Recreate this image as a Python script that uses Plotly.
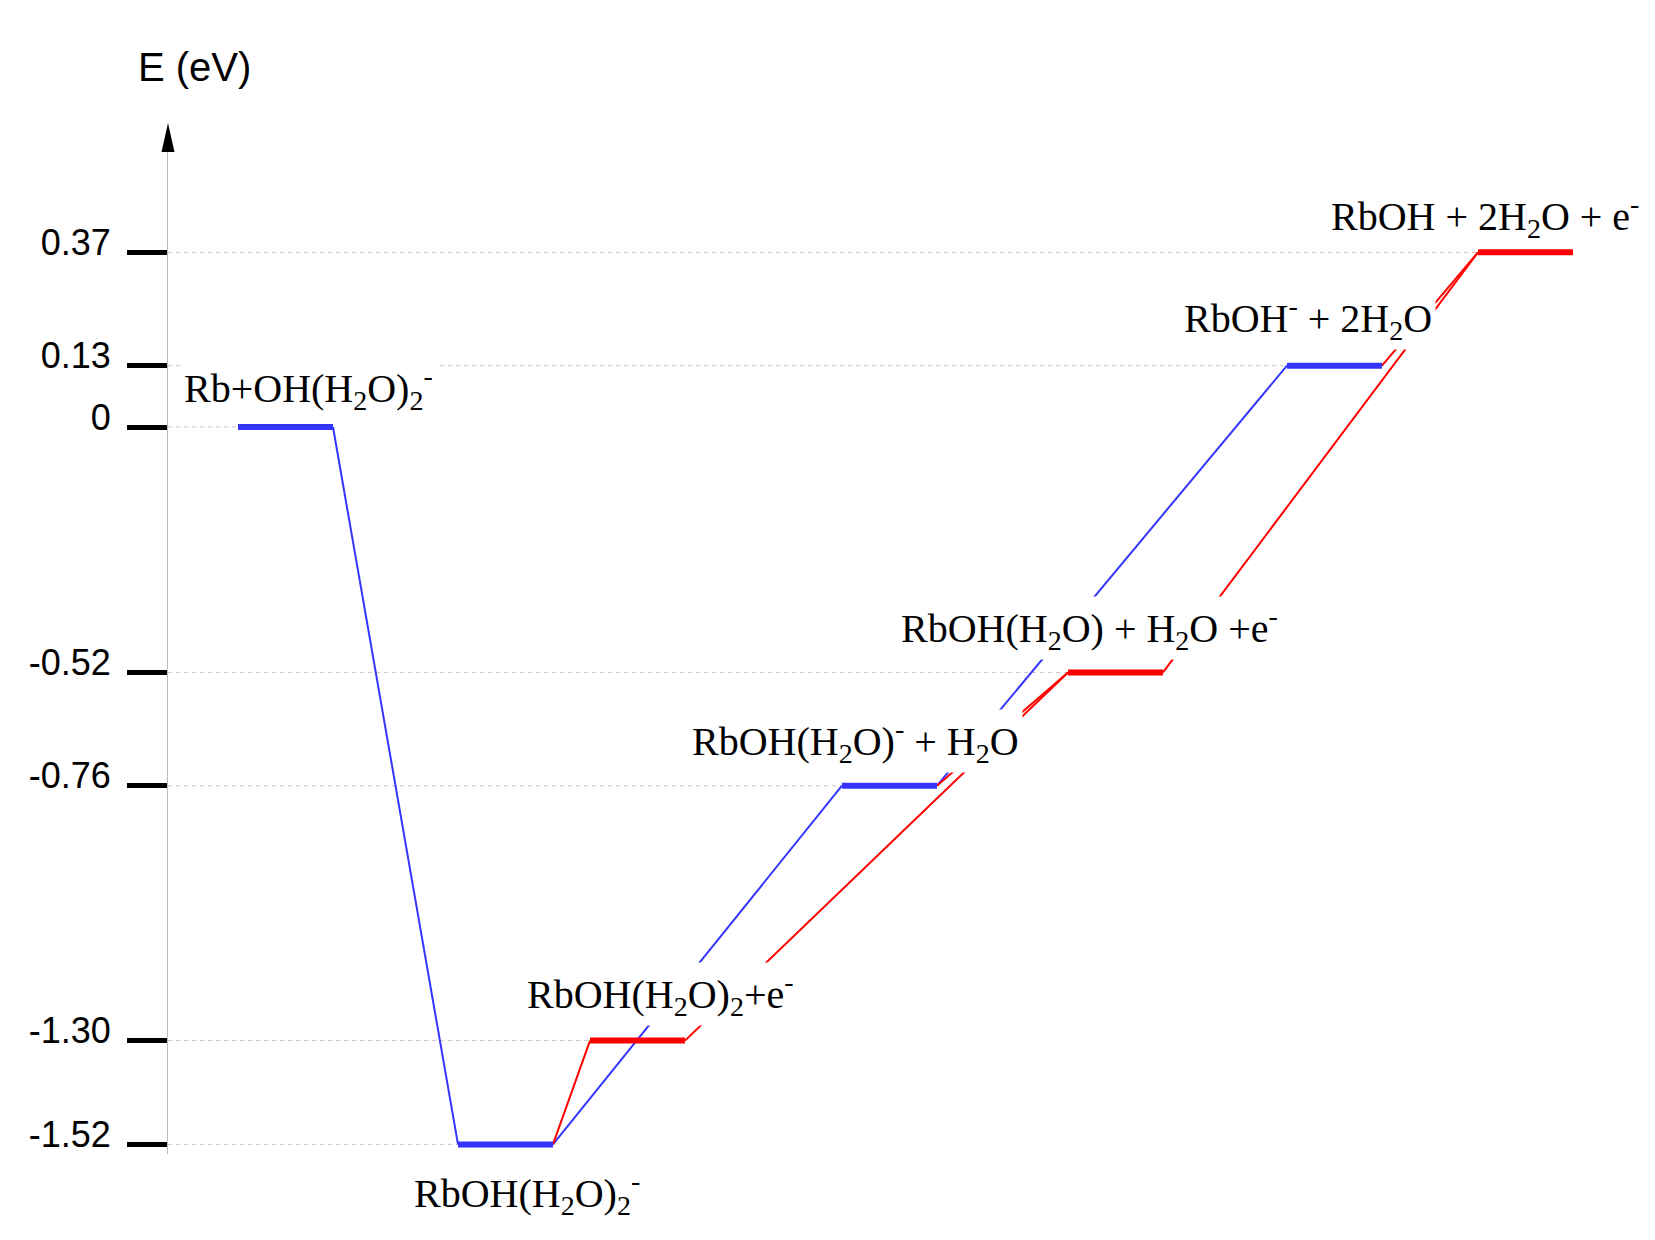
import plotly.graph_objects as go

# ---------------- data ----------------
level_names = [
    "Rb+OH(H<sub>2</sub>O)<sub>2</sub><sup>-</sup>",
    "RbOH(H<sub>2</sub>O)<sub>2</sub><sup>-</sup>",
    "RbOH(H<sub>2</sub>O)<sub>2</sub>+e<sup>-</sup>",
    "RbOH(H<sub>2</sub>O)<sup>-</sup> + H<sub>2</sub>O",
    "RbOH(H<sub>2</sub>O) + H<sub>2</sub>O +e<sup>-</sup>",
    "RbOH<sup>-</sup> + 2H<sub>2</sub>O",
    "RbOH + 2H<sub>2</sub>O + e<sup>-</sup>",
]
level_energy = [0.0, -1.52, -1.30, -0.76, -0.52, 0.13, 0.37]
level_kind = ["anion", "anion", "neutral", "anion", "neutral", "anion", "neutral"]

links_anion = [(0, 1), (1, 3), (3, 5)]
links_neutral = [(1, 2), (2, 4), (3, 4), (4, 6), (5, 6)]

tick_energy = [0.37, 0.13, 0.0, -0.52, -0.76, -1.30, -1.52]
tick_text = ["0.37", "0.13", "0", "-0.52", "-0.76", "-1.30", "-1.52"]

axis_title = "E (eV)"

# ---------------- layout / style ----------------
W, H = 1655, 1240
AXIS_X = 168
PLOT_TOP, PLOT_BOT = 150, 1154
PX0, PX_PER_EV = 427, 472
y_top = (PX0 - PLOT_TOP) / PX_PER_EV
y_bot = (PX0 - PLOT_BOT) / PX_PER_EV

level_x = [238, 458, 590, 842, 1068, 1287, 1478]
LEVEL_W = 95
label_x = [180, 410, 523, 688, 897, 1180, 1327]
label_shift = [39, -49, 47, 45, 44, 48, 36]
colors = {"anion": "#3535ff", "neutral": "#ff0000"}

fig = go.Figure()

# dashed guide lines from axis to each level
for i, e in enumerate(level_energy):
    fig.add_trace(go.Scatter(
        x=[AXIS_X, level_x[i] + 10], y=[e, e], mode="lines",
        line=dict(color="#c8c8c8", width=1, dash="4px,4px"),
        hoverinfo="skip", showlegend=False))

# connectors
for links, kind in ((links_anion, "anion"), (links_neutral, "neutral")):
    for a, b in links:
        fig.add_trace(go.Scatter(
            x=[level_x[a] + LEVEL_W, level_x[b]],
            y=[level_energy[a], level_energy[b]],
            mode="lines", line=dict(color=colors[kind], width=2),
            hoverinfo="skip", showlegend=False))

# levels
for i, e in enumerate(level_energy):
    fig.add_trace(go.Scatter(
        x=[level_x[i], level_x[i] + LEVEL_W], y=[e, e], mode="lines",
        line=dict(color=colors[level_kind[i]], width=6),
        hoverinfo="skip", showlegend=False))

annotations = []
for i, name in enumerate(level_names):
    annotations.append(dict(
        x=label_x[i], y=level_energy[i], xref="x", yref="y",
        text=name, showarrow=False, xanchor="left", yanchor="middle",
        yshift=label_shift[i], bgcolor="white", borderpad=3,
        font=dict(family="Liberation Serif", size=40, color="black")))

annotations.append(dict(
    x=(194 - AXIS_X) / (W - AXIS_X), y=(PLOT_BOT - 67) / (PLOT_BOT - PLOT_TOP),
    xref="paper", yref="paper", text=axis_title, showarrow=False,
    xanchor="center", yanchor="middle",
    font=dict(family="Liberation Sans", size=40, color="black")))


def px_paper_x(px):
    return (px - AXIS_X) / (W - AXIS_X)


def px_paper_y(py):
    return (PLOT_BOT - py) / (PLOT_BOT - PLOT_TOP)


arrow_path = "M {} {} L {} {} L {} {} Z".format(
    px_paper_x(AXIS_X), px_paper_y(123),
    px_paper_x(AXIS_X - 6.5), px_paper_y(152),
    px_paper_x(AXIS_X + 6.5), px_paper_y(152))

fig.update_layout(
    width=W, height=H,
    margin=dict(l=AXIS_X, r=0, t=PLOT_TOP, b=H - PLOT_BOT),
    paper_bgcolor="white", plot_bgcolor="white",
    xaxis=dict(visible=False, range=[AXIS_X, W], fixedrange=True),
    yaxis=dict(
        range=[y_bot, y_top], showgrid=False, zeroline=False,
        showline=True, linecolor="#bbbbbb", linewidth=1,
        tickmode="array", tickvals=tick_energy, ticktext=tick_text,
        ticks="outside", ticklen=40, tickwidth=5, tickcolor="black",
        ticklabelstandoff=9, ticklabelshift=-10,
        tickfont=dict(family="Liberation Sans", size=36, color="black")),
    annotations=annotations,
    shapes=[dict(type="path", path=arrow_path, xref="paper", yref="paper",
                 fillcolor="black", line=dict(width=0), layer="above")],
    showlegend=False,
)

fig.write_html("out.html")
